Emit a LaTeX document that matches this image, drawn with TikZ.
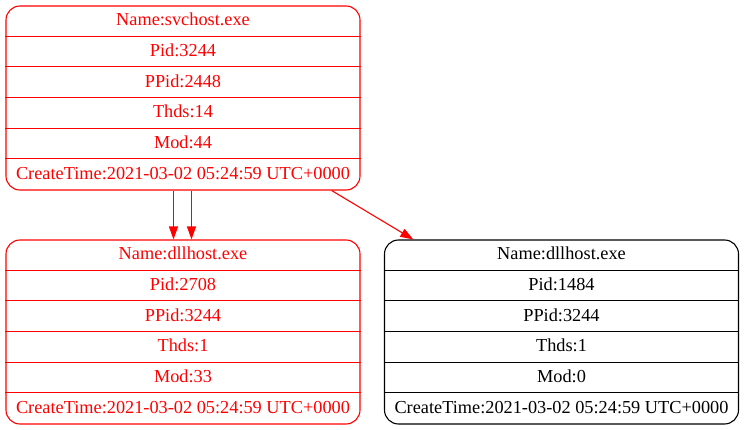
\documentclass[tikz,border=0pt]{standalone}
\usepackage{fontspec}
\setmainfont{Liberation Serif}
\usetikzlibrary{arrows.meta,calc}
\newcommand{\recbox}[5]{%
  % #1 name, #2 cx, #3 cy, #4 colour, #5 list of rows
  \node[rec, draw=#4] (#1) at (#2,#3) {};
  \foreach \k in {1,...,5}{
    \draw[#4, line width=1.1pt] ($(#1.north west)+(0,-\k*30.667)$) -- ($(#1.north east)+(0,-\k*30.667)$);
  }
  \foreach \t [count=\i] in {#5}{
    \node[lbl, text=#4] (#1-\i) at ($(#1.north)+(0,-\i*30.667+15.333-5)$) {\t};
  }
}
\begin{document}
\begin{tikzpicture}[x=1pt,y=1pt]
\tikzset{
  rec/.style={rounded corners=14pt, line width=1.1pt, minimum width=354pt, minimum height=184pt, inner sep=0pt},
  lbl/.style={font=\fontsize{18.3}{20}\selectfont, inner sep=0pt, anchor=base},
  edge/.style={red, line width=1.1pt, -{Triangle[length=13pt,width=9pt]}}
}
\useasboundingbox (0,0) rectangle (744,429);
\recbox{A}{183}{331}{red}{Name:svchost.exe,Pid:3244,PPid:2448,Thds:14,Mod:44,CreateTime:2021-03-02 05:24:59 UTC+0000}
\recbox{B}{183}{97}{red}{Name:dllhost.exe,Pid:2708,PPid:3244,Thds:1,Mod:33,CreateTime:2021-03-02 05:24:59 UTC+0000}
\recbox{C}{561.5}{97}{black}{Name:dllhost.exe,Pid:1484,PPid:3244,Thds:1,Mod:0,CreateTime:2021-03-02 05:24:59 UTC+0000}
\coordinate (a1) at ($(A.south)+(-9.5,0)$);
\coordinate (b1) at ($(B.north)+(-9.5,0)$);
\coordinate (a2) at ($(A.south)+(8.5,0)$);
\coordinate (b2) at ($(B.north)+(8.5,0)$);
\coordinate (a3) at ($(A.south)+(148.7,0)$);
\coordinate (c3) at ($(C.north)+(-148.2,0)$);
\draw[edge] (a1) -- (b1);
\draw[edge] (a2) -- (b2);
\draw[edge] (a3) -- (c3);
\end{tikzpicture}
\end{document}
